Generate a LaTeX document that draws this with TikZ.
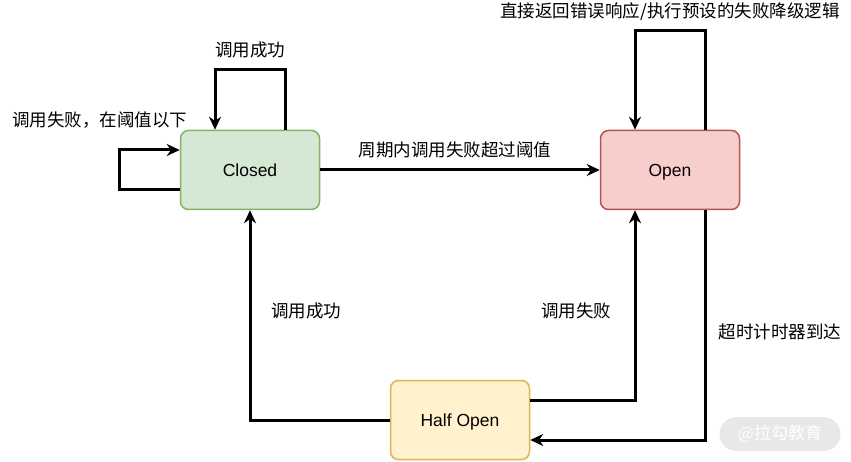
\documentclass[tikz,border=0pt]{standalone}
\usepackage{fontspec}
\setmainfont{Liberation Sans}
\newfontfamily\cjk{Noto Sans CJK SC}
\usetikzlibrary{arrows.meta,positioning}
\definecolor{closedfill}{HTML}{D5E8D4}
\definecolor{closedline}{HTML}{82B366}
\definecolor{openfill}{HTML}{F8CECC}
\definecolor{openline}{HTML}{B85450}
\definecolor{halffill}{HTML}{FFF2CC}
\definecolor{halfline}{HTML}{D6B656}

\begin{document}
\begin{tikzpicture}[>={Stealth[length=13pt,width=12pt]}, x=1pt, y=-1pt,
  state/.style={draw, rounded corners=8pt, line width=1.5pt, minimum width=139pt, minimum height=79pt, text height=12.5pt, text depth=0pt, font=\fontsize{17.5}{21}\selectfont},
  lbl/.style={font=\cjk\fontsize{17.5}{21}\selectfont},
  flow/.style={->, line width=3pt}]
\useasboundingbox (0,0) rectangle (851,462);
% states
\node[state, fill=closedfill, draw=closedline] (closed) at (250,170) {Closed};
\node[state, fill=openfill, draw=openline] (open) at (670,170) {Open};
\node[state, fill=halffill, draw=halfline] (half) at (460,420) {Half Open};
% transitions
\draw[flow] ([xshift=35pt]closed.north) -- ++(0,-60) -| ([xshift=-35pt]closed.north);
\node[lbl] (okself) at (250,50) {调用成功};
\draw[flow] ([yshift=-20pt]closed.west) -- ++(-60,0) |- ([yshift=20pt]closed.west);
\node[lbl] (failself) at (100,120) {调用失败，在阈值以下};
\draw[flow] (closed) -- (open);
\node[lbl] (trip) at (455,150) {周期内调用失败超过阈值};
\draw[flow] ([xshift=35pt]open.north) -- ++(0,-99) -| ([xshift=-35pt]open.north);
\node[lbl] (reject) at (670,12) {直接返回错误响应/执行预设的失败降级逻辑};
\draw[flow] ([xshift=35pt]open.south) |- ([yshift=-20pt]half.east);
\node[lbl] (timeout) at (780,332) {超时计时器到达};
\draw[flow] ([yshift=20pt]half.east) -| ([xshift=-35pt]open.south);
\node[lbl] (halffail) at (576,311) {调用失败};
\draw[flow] (half.west) -| (closed.south);
\node[lbl] (halfok) at (306,311) {调用成功};
% watermark
\node[fill=black!9, rounded corners=17pt, minimum width=121pt, minimum height=34pt, text=white, font=\cjk\fontsize{17}{20}\selectfont] (mark) at (780,434) {@拉勾教育};
\end{tikzpicture}
\end{document}
